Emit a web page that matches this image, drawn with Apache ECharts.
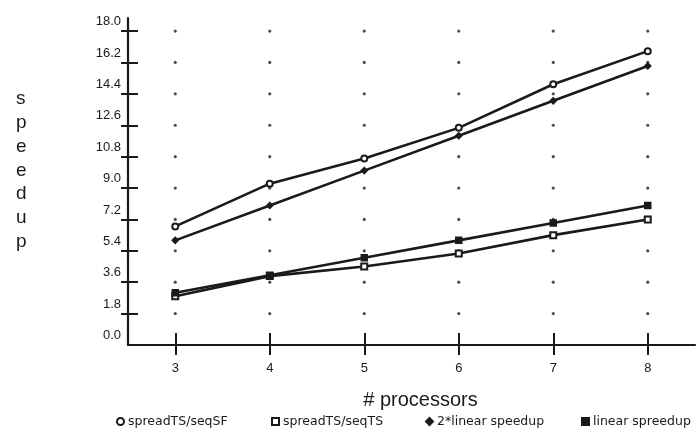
<!DOCTYPE html>
<html>
<head>
<meta charset="utf-8">
<script src="https://cdn.jsdelivr.net/npm/echarts@6/dist/echarts.min.js"></script>
<style>html,body{margin:0;padding:0;background:#fff}#c{width:696px;height:438px}</style>
</head>
<body>
<div id="c"></div>
<script>
const processors = [3, 4, 5, 6, 7, 8];
const xTicks = [3, 4, 5, 6, 7, 8];
const yTicks = [0, 1.8, 3.6, 5.4, 7.2, 9.0, 10.8, 12.6, 14.4, 16.2, 18.0];
const spreadTS_seqSF = [6.8, 9.25, 10.7, 12.45, 14.95, 16.85];
const spreadTS_seqTS = [2.8, 3.95, 4.5, 5.25, 6.3, 7.2];
const twoLinearSpeedup = [6, 8, 10, 12, 14, 16];
const linearSpeedup = [3, 4, 5, 6, 7, 8];
const seriesNames = ['spreadTS/seqSF', 'spreadTS/seqTS', '2*linear speedup', 'linear spreedup'];

const pts = arr => processors.map((p, i) => [p, arr[i]]);
const gridDots = [];
xTicks.forEach(x => yTicks.slice(1).forEach(y => gridDots.push([x, y])));

const font = 'Liberation Sans, Arial, sans-serif';
const ink = '#1a1a1a';
const lineSeries = (name, data, symbol) => ({
  name, type: 'line', data: pts(data), symbol, symbolSize: 6,
  lineStyle: { color: ink, width: 2.6 },
  itemStyle: { color: ink, borderColor: ink, borderWidth: 1.5 },
  z: 3, animation: false
});
const legendAt = (name, left, icon) => ({
  data: [{ name, icon }], left, top: 410, itemWidth: 7, itemHeight: 7, itemGap: 0,
  textStyle: { fontFamily: 'DejaVu Sans, sans-serif', fontSize: 12.5, color: ink, padding: [0, 0, 0, -1] },
  selectedMode: false
});

const chart = echarts.init(document.getElementById('c'));
chart.setOption({
  animation: false,
  title: {
    text: 's\np\ne\ne\nd\nu\np', left: 11, top: 82,
    textStyle: { fontFamily: font, fontSize: 19, fontWeight: 'normal', color: ink, lineHeight: 23.8 }
  },
  grid: { left: 128, right: 1, top: 18, bottom: 93 },
  xAxis: [{
    type: 'value', min: 2.5, max: 8.5, position: 'bottom',
    axisLine: { lineStyle: { color: ink, width: 2.2 } },
    axisTick: { customValues: xTicks, length: 10, lineStyle: { color: ink, width: 2 } },
    axisLabel: { customValues: xTicks, margin: 17, fontFamily: font, fontSize: 13, color: ink },
    splitLine: { show: false },
    name: '# processors', nameLocation: 'middle', nameGap: 45,
    nameTextStyle: { fontFamily: font, fontSize: 20, color: ink, padding: [0, 0, 0, 18] }
  }, {
    type: 'value', min: 2.5, max: 8.5, position: 'bottom',
    axisLine: { show: false },
    axisTick: { show: true, customValues: xTicks, inside: true, length: 12, lineStyle: { color: ink, width: 2 } },
    axisLabel: { show: false }, splitLine: { show: false }
  }],
  yAxis: [{
    type: 'value', min: 0, max: 18.75, position: 'left',
    axisLine: { lineStyle: { color: ink, width: 2.2 } },
    axisTick: { customValues: yTicks.slice(1), length: 7, lineStyle: { color: ink, width: 2 } },
    axisLabel: {
      customValues: yTicks, margin: 7, fontFamily: font, fontSize: 13, color: ink,
      verticalAlign: 'bottom', padding: [0, 0, 3, 0],
      formatter: v => v.toFixed(1)
    },
    splitLine: { show: false }
  }, {
    type: 'value', min: 0, max: 18.75, position: 'left',
    axisLine: { show: false },
    axisTick: { show: true, customValues: yTicks.slice(1), inside: true, length: 10, lineStyle: { color: ink, width: 2 } },
    axisLabel: { show: false }, splitLine: { show: false }
  }],
  legend: [
    legendAt(seriesNames[0], 111, 'emptyCircle'),
    legendAt(seriesNames[1], 266, 'emptyRect'),
    legendAt(seriesNames[2], 420, 'diamond'),
    legendAt(seriesNames[3], 576, 'rect')
  ],
  series: [
    {
      type: 'scatter', data: gridDots, symbol: 'circle', symbolSize: 3.2, silent: true,
      xAxisIndex: 1, yAxisIndex: 1,
      itemStyle: { color: '#222' }, z: 1
    },
    lineSeries(seriesNames[0], spreadTS_seqSF, 'emptyCircle'),
    lineSeries(seriesNames[1], spreadTS_seqTS, 'emptyRect'),
    lineSeries(seriesNames[2], twoLinearSpeedup, 'diamond'),
    lineSeries(seriesNames[3], linearSpeedup, 'rect')
  ]
});
</script>
</body>
</html>
